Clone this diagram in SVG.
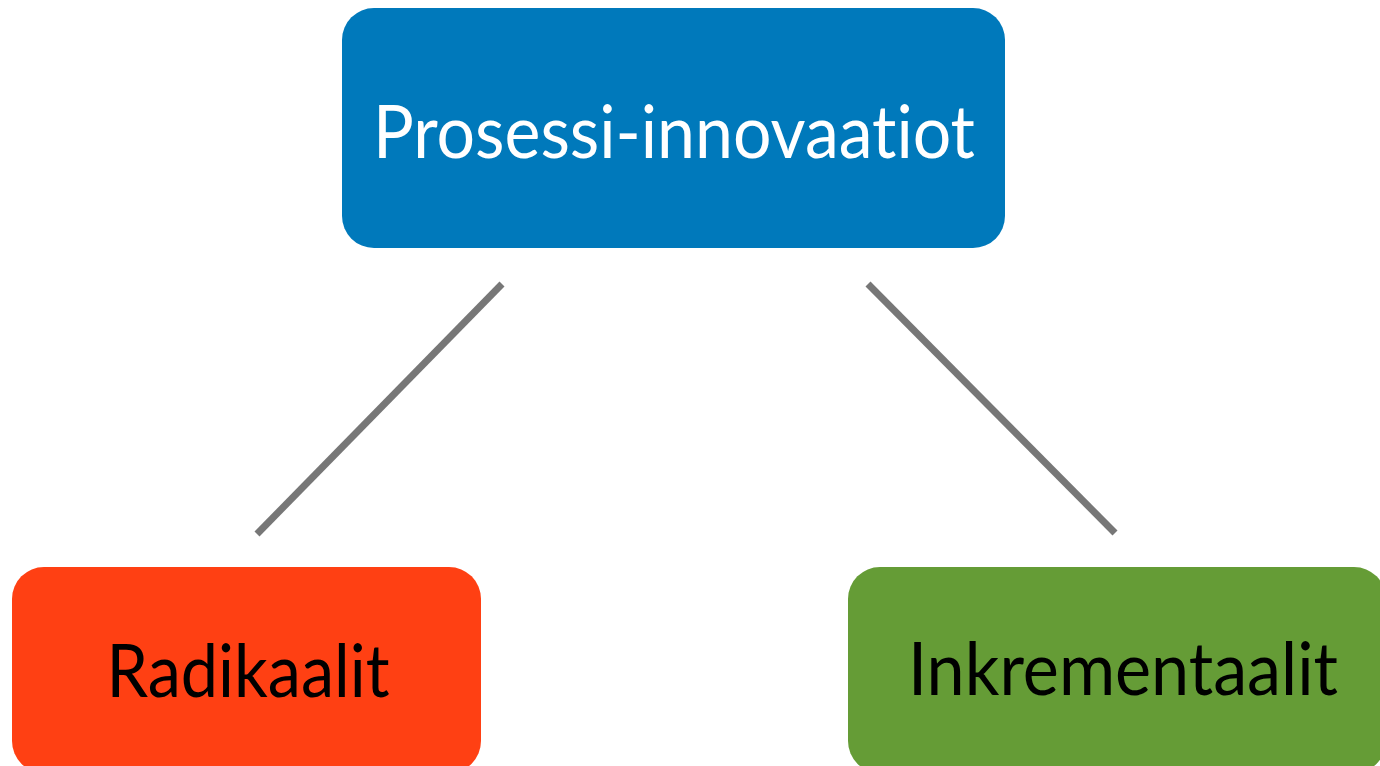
<svg xmlns="http://www.w3.org/2000/svg" width="1380" height="766" viewBox="0 0 1380 766">
  <style>
    .box-label { font-family: "Lato", "Open Sans", "Liberation Sans", sans-serif; font-size: 74px; text-anchor: middle; font-variant-ligatures: none; font-feature-settings: "liga" 0; }
    .link { stroke: #777777; stroke-width: 7; stroke-linecap: butt; fill: none; }
  </style>
  <rect x="0" y="0" width="1380" height="766" fill="#ffffff"/>

  <!-- connectors -->
  <g id="connectors">
    <line class="link" x1="502" y1="284" x2="257" y2="534"/>
    <line class="link" x1="868" y1="284" x2="1115" y2="533"/>
  </g>

  <!-- top node -->
  <g id="node-prosessi">
    <rect x="342" y="8" width="663" height="240" rx="32" ry="32" fill="#0079BB"/>
    <text class="box-label" x="674" y="158" fill="#ffffff" textLength="602" lengthAdjust="spacingAndGlyphs">Prosessi-innovaatiot</text>
  </g>

  <!-- lower left node -->
  <g id="node-radikaalit">
    <rect x="12" y="567" width="469" height="206" rx="32" ry="32" fill="#FF4013"/>
    <text class="box-label" x="248" y="697" fill="#000000" textLength="283" lengthAdjust="spacingAndGlyphs">Radikaalit</text>
  </g>

  <!-- lower right node -->
  <g id="node-inkrementaalit">
    <rect x="848" y="567" width="538" height="206" rx="32" ry="32" fill="#659C36"/>
    <text class="box-label" x="1123" y="695" fill="#000000" textLength="430" lengthAdjust="spacingAndGlyphs">Inkrementaalit</text>
  </g>
</svg>
